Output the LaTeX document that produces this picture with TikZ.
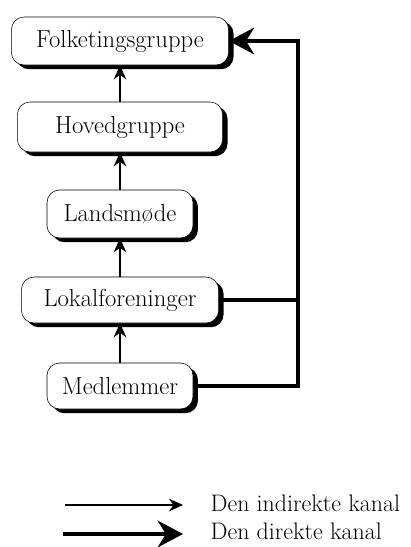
\documentclass[tikz,border=0pt]{standalone}
\usetikzlibrary{arrows.meta,shadows}
\begin{document}
\begin{tikzpicture}[x=0.025cm, y=-0.025cm,
  font=\fontsize{17.5}{20}\selectfont,
  box/.style={draw, thin, rounded corners=9pt, fill=white, minimum height=1.2cm,
    drop shadow={shadow xshift=3.5pt, shadow yshift=-3pt, opacity=1, fill=black}},
  indirect/.style={-{Stealth[length=10pt,width=9pt]}, line width=1pt},
  direct/.style={line width=2.6pt},
  directarrow/.style={direct, -{Stealth[length=18pt,width=19pt]}}]
\useasboundingbox (0,0) rectangle (411,547);
\node[box, minimum width=5.43cm] (folk) at (120,41) {Folketingsgruppe};
\node[box, minimum width=5.13cm, minimum height=1.25cm] (hoved) at (120,127) {Hovedgruppe};
\node[box, minimum width=3.65cm] (lands) at (120,214) {Landsmøde};
\node[box, minimum width=4.93cm, minimum height=1.15cm] (lokal) at (120,300) {Lokalforeninger};
\node[box, minimum width=3.65cm, minimum height=1.15cm] (medl) at (120,386) {Medlemmer};
% indirekte kanal
\draw[indirect] (medl) -- (lokal);
\draw[indirect] (lokal) -- (lands);
\draw[indirect] (lands) -- (hoved);
\draw[indirect] (hoved) -- (folk);
% direkte kanal
\coordinate (rail) at (298,0);
\draw[directarrow] (medl.east) -| (rail |- folk.east) -- (folk.east);
\draw[direct] (lokal.east) -- (lokal.east -| rail);
% forklaring
\node[anchor=west, inner sep=1pt, font=\fontsize{17}{20}\selectfont] (indir) at (209,503) {Den indirekte kanal};
\node[anchor=west, inner sep=1pt, font=\fontsize{17}{20}\selectfont] (dir) at (209,531) {Den direkte kanal};
\coordinate (a1) at (65,505);
\coordinate (b1) at (183,505);
\coordinate (a2) at (63,534);
\coordinate (b2) at (183,534);
\draw[indirect] (a1) -- (b1);
\draw[directarrow] (a2) -- (b2);
\end{tikzpicture}
\end{document}
